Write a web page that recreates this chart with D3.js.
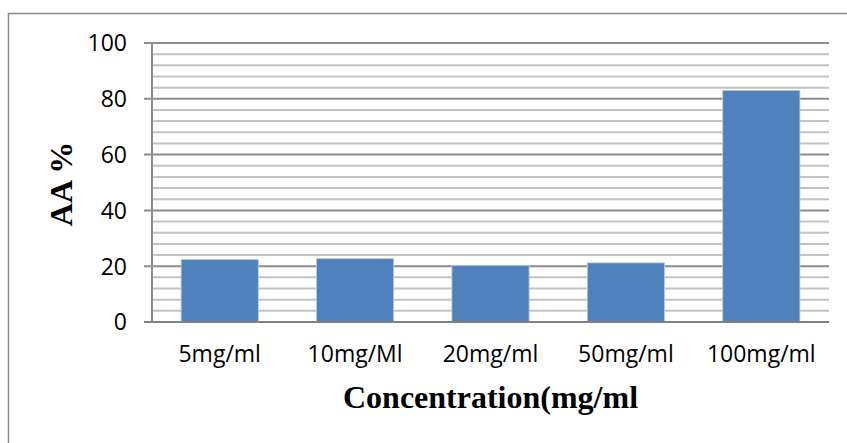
<!DOCTYPE html>
<html><head><meta charset="utf-8">
<script src="https://cdn.jsdelivr.net/npm/d3@7"></script>
<style>body{margin:0;background:#fff}svg{display:block}</style>
</head><body>
<svg id="c" width="847" height="443"></svg>
<script>
const categories = ["5mg/ml","10mg/Ml","20mg/ml","50mg/ml","100mg/ml"];
const values = [22.4, 22.7, 20.3, 21.2, 83.0];
const yTicks = [0,20,40,60,80,100];
const minorTicks = d3.range(0,101,4);
const xTitle = "Concentration(mg/ml";
const yTitle = "AA %";

const svg = d3.select("#c");
const L = 152, R = 829, T = 43, B = 322;

// outer frame (top and left edges visible)
svg.append("line").attr("x1",8).attr("x2",847).attr("y1",13.5).attr("y2",13.5).attr("stroke","#8a8a8a").attr("stroke-width",1.5);
svg.append("line").attr("x1",8.5).attr("x2",8.5).attr("y1",13).attr("y2",443).attr("stroke","#8a8a8a").attr("stroke-width",1.5);

const x = d3.scaleBand().domain(categories).range([L,R]).paddingInner(0.43).paddingOuter(0.215);
const y = d3.scaleLinear().domain([0,100]).range([B,T]);

// minor gridlines
svg.append("g").selectAll("line").data(minorTicks.filter(d=>d%20!==0)).join("line")
  .attr("x1",L).attr("x2",R).attr("y1",d=>y(d)).attr("y2",d=>y(d))
  .attr("stroke","#c3c3c3").attr("stroke-width",2);
// major gridlines
svg.append("g").selectAll("line").data(yTicks.filter(d=>d>0)).join("line")
  .attr("x1",L-8).attr("x2",R).attr("y1",d=>y(d)).attr("y2",d=>y(d))
  .attr("stroke","#8c8c8c").attr("stroke-width",2);

// bars
svg.append("g").selectAll("rect").data(values).join("rect")
  .attr("x",(d,i)=>x(categories[i])).attr("width",x.bandwidth())
  .attr("y",d=>y(d)).attr("height",d=>B-y(d))
  .attr("fill","#4f81bd").attr("stroke","#b9cde5").attr("stroke-width",0.8);

// y axis line
svg.append("line").attr("x1",L).attr("x2",L).attr("y1",T-1).attr("y2",B).attr("stroke","#8c8c8c").attr("stroke-width",2);
// x axis line
svg.append("line").attr("x1",L-8).attr("x2",R).attr("y1",B).attr("y2",B).attr("stroke","#808080").attr("stroke-width",2);

// y tick labels
const yAxis = d3.axisLeft(y).tickValues(yTicks).tickSize(0).tickPadding(25);
const gy = svg.append("g").attr("transform",`translate(${L},0)`).call(yAxis);
gy.select(".domain").remove();
gy.selectAll("text").attr("font-family","'Open Sans', sans-serif").attr("font-size",23).attr("fill","#000").attr("dy","0.34em");

// x tick labels
const xAxis = d3.axisBottom(x).tickSize(0).tickPadding(0);
const gx = svg.append("g").attr("transform",`translate(0,${B})`).call(xAxis);
gx.select(".domain").remove();
gx.selectAll("text").attr("font-family","'Open Sans', sans-serif").attr("font-size",23).attr("fill","#000").attr("dy",null).attr("y",40);

// titles
svg.append("text").attr("x",(L+R)/2).attr("y",408).attr("text-anchor","middle")
  .attr("font-family","'Liberation Serif', 'Times New Roman', serif").attr("font-weight","bold").attr("font-size",32).text(xTitle);
svg.append("text").attr("transform",`translate(72,184) rotate(-90)`).attr("text-anchor","middle")
  .attr("font-family","'Liberation Serif', 'Times New Roman', serif").attr("font-weight","bold").attr("font-size",32).text(yTitle);
</script>
</body></html>
